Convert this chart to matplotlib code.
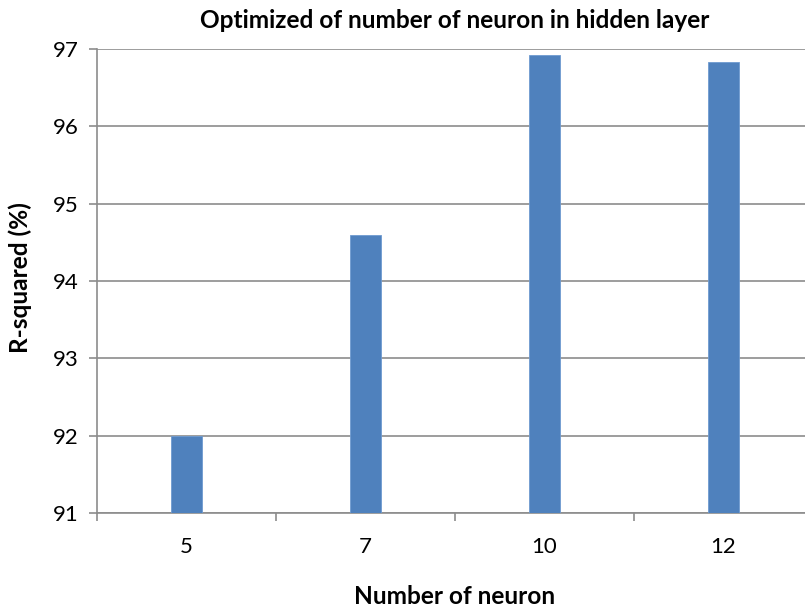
import matplotlib
matplotlib.use("Agg")
import matplotlib.pyplot as plt
import numpy as np

categories = ["5", "7", "10", "12"]
r_squared = [92.0, 94.6, 96.92, 96.83]
y_ticks = [91, 92, 93, 94, 95, 96, 97]

plt.rcParams["font.family"] = ["Lato", "DejaVu Sans"]

W, H = 805, 610
fig = plt.figure(figsize=(W / 100, H / 100), dpi=100)
left, right, top, bottom = 97, 813, 49, 513
ax = fig.add_axes([left / W, 1 - bottom / H, (right - left) / W, (bottom - top) / H])

grid_col = "#8c8c8c"
x = np.arange(len(categories))
ax.bar(x, [v - 91 for v in r_squared], bottom=91, width=0.17,
       color="#4F81BD", edgecolor="#6f9bd0", linewidth=0.6, zorder=3)

ax.set_xlim(-0.5, len(categories) - 0.5)
ax.set_ylim(91, 97)
ax.set_yticks(y_ticks)
ax.set_yticklabels([str(t) for t in y_ticks], fontsize=16)
ax.yaxis.grid(True, color=grid_col, linewidth=1.2, zorder=0)
ax.set_axisbelow(True)

# Category boundary ticks on x, labels centred in each category
ax.set_xticks(np.arange(-0.5, len(categories), 1.0))
ax.set_xticklabels([])
ax.set_xticks(x, minor=True)
ax.set_xticklabels(categories, minor=True, fontsize=16)
ax.tick_params(axis="x", which="major", direction="out", length=6, width=1.2, color=grid_col)
ax.tick_params(axis="x", which="minor", length=0, pad=17)
ax.tick_params(axis="y", direction="out", length=6, width=1.2, color=grid_col, pad=7)

for s in ["top", "right"]:
    ax.spines[s].set_visible(False)
for s in ["left", "bottom"]:
    ax.spines[s].set_color(grid_col)
    ax.spines[s].set_linewidth(1.2)

fig.text((left + right) / 2 / W, 1 - 21 / H, "Optimized of number of neuron in hidden layer",
         ha="center", va="center", fontsize=17.6, fontweight="bold")
fig.text((left + right) / 2 / W, 1 - 597 / H, "Number of neuron",
         ha="center", va="center", fontsize=17.6, fontweight="bold")
fig.text(20 / W, 1 - 278 / H, "R-squared (%)", rotation=90,
         ha="center", va="center", fontsize=17.6, fontweight="bold")

fig.savefig("out.png", dpi=100, facecolor="white")
